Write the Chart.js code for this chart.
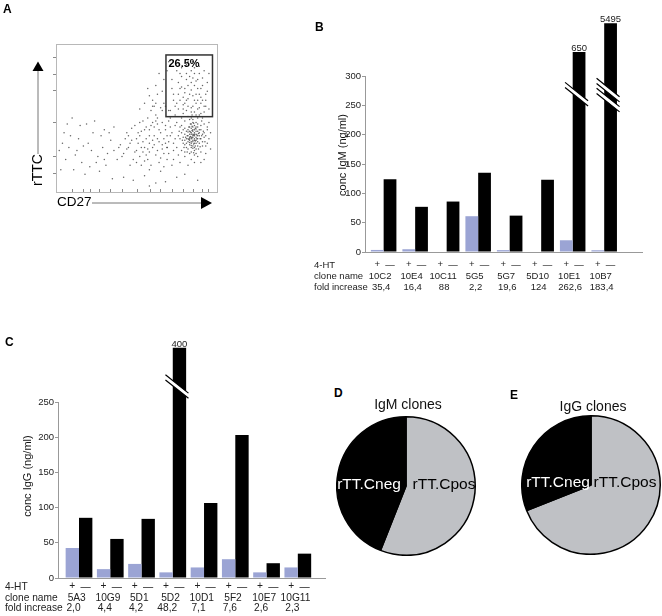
<!DOCTYPE html>
<html>
<head>
<meta charset="utf-8">
<script src="https://cdn.jsdelivr.net/npm/chart.js@4.4.1/dist/chart.umd.min.js"></script>
<style>
  body { margin: 0; background: #fff; }
  #page { position: relative; width: 662px; height: 616px; overflow: hidden; background: #fff; }
  canvas { position: absolute; }
  .tag { position: absolute; font: bold 12px Arial, "Liberation Sans", sans-serif; line-height: 12px; color: #000; }
  .ptitle { position: absolute; width: 160px; text-align: center; font: 14px Arial, "Liberation Sans", sans-serif; line-height: 14px; color: #111; }
</style>
</head>
<body>
<div id="page">
  <canvas id="facs" width="230" height="215" style="left:0;top:0"></canvas>
  <canvas id="igm" width="362" height="300" style="left:300px;top:0"></canvas>
  <canvas id="igg" width="330" height="316" style="left:0;top:300px"></canvas>
  <canvas id="pieM" width="140" height="140" style="left:336px;top:416px"></canvas>
  <canvas id="pieG" width="140" height="140" style="left:521px;top:415px"></canvas>

  <div class="tag" style="left:3px;top:3px">A</div>
  <div class="tag" style="left:315px;top:21px">B</div>
  <div class="tag" style="left:5px;top:336px">C</div>
  <div class="tag" style="left:334px;top:387px">D</div>
  <div class="tag" style="left:510px;top:389px">E</div>
  <div class="ptitle" style="left:328px;top:397px">IgM clones</div>
  <div class="ptitle" style="left:513px;top:399px">IgG clones</div>
</div>

<script>
const FONT = 'Arial, "Liberation Sans", sans-serif';
const BLUE = '#9ba4d4';
const GREY = '#bfc1c5';

// --- A : dot plot, both axes 0..100 (display units) ---
const facsDots = [
  // dense core
  [85,37],[84,36],[86,38],[83,35],[87,39],[85,34],[84,40],[88,36],[82,38],[86,33],
  [85,41],[83,39],[87,35],[84,33],[86,36],[89,38],[81,36],[85,39],[88,41],[83,32],
  [86,42],[84,37],[87,33],[82,34],[90,36],[85,31],[80,39],[88,34],[84,43],[86,30],
  [83,41],[89,40],[81,33],[87,44],[85,35],[79,37],[91,39],[84,30],[86,45],[82,42],
  [88,31],[80,35],[90,42],[83,36],[87,37],[85,44],[78,40],[89,33],[84,46],[86,28],
  [81,30],[92,37],[83,44],[87,29],[80,43],[91,34],[85,47],[79,33],[88,46],[82,29],
  [86,40],[84,34],[87,41],[83,37],[85,38],[86,35],[84,39],[88,38],[82,36],[85,42],
  [84.5,36.5],[85.5,38.5],[83.5,37.5],[86.5,34.5],[84.5,41.5],[87.5,38.5],[82.5,35.5],[85.5,32.5],[88.5,39.5],[83.5,40.5],
  [86.5,43],[81.5,38],[89.5,36],[84,31.5],[87,42.5],[82,40.5],[90.5,38],[85,29.5],[88,44],[80.5,37],
  [86,39],[83,33.5],[87.5,36],[84.5,44.5],[81,41],[89,42],[85.5,26.5],[78.5,35],[91.5,41],[83.5,46],
  [86.5,31],[80,32],[88.5,29],[82.5,44],[90,45],[84,27],[87,47],[79,42],[92,40],[85,49],
  [77,36],[93,38],[81.5,27],[89.5,30.5],[83,49],[86,25],[78,45],[91,31],[84.5,52],[88,50],
  [76.5,41],[94,44],[80,27],[87,26],[82,51],[90.5,48],[79.5,30],[92.5,34],[85.5,46.5],[83,26],
  // core fringe
  [75,30],[77,44],[93,31],[94,42],[76,25],[90,27],[92,46],[78,50],[74,36],[95,36],
  [72,40],[80,24],[88,24],[91,50],[73,28],[96,40],[79,53],[84,22],[77,20],[93,26],
  [70,34],[89,52],[75,47],[95,47],[82,18],[86,20],[71,44],[92,22],[78,28],[80,48],
  [74,52],[94,33],[76,38],[87,52],[73,22],[90,20],[96,29],[81,55],[69,30],[84,50],
  // inside the gate
  [80,60],[84,57],[88,62],[76,66],[90,70],[82,72],[86,54],[92,58],[74,58],[78,78],
  [85,65],[89,80],[81,86],[93,66],[72,70],[87,75],[79,56],[91,62],[75,82],[84,69],
  [88,56],[83,78],[94,74],[77,62],[86,84],[80,67],[90,53],[73,62],[85,88],[92,82],
  [78,71],[87,60],[82,63],[95,56],[71,55],[89,66],[76,74],[84,54],[91,77],[81,80],
  [82,58],[86,62],[79,64],[88,70],[84,74],[90,60],[77,70],[93,62],[81,76],[86,80],
  [75,60],[89,85],[83,66],[91,72],[78,84],[85,58],[94,68],[80,70],[87,66],[73,66],
  [92,54],[76,56],[84,82],[88,76],[82,88],[95,80],[79,59],[86,72],[90,64],[72,76],
  [81,62],[93,58],[77,80],[85,77],[89,57],
  // diagonal spread
  [65,40],[60,35],[55,30],[68,45],[62,25],[58,42],[50,28],[66,32],[63,50],[57,22],
  [52,38],[45,30],[69,38],[61,44],[48,22],[54,48],[67,26],[59,55],[47,35],[64,20],
  [42,26],[56,36],[70,48],[53,18],[60,30],[44,40],[66,55],[51,33],[58,15],[40,32],
  [63,36],[49,45],[67,60],[38,22],[55,42],[62,48],[46,18],[69,22],[57,29],[43,36],
  [65,14],[36,28],[60,58],[52,24],[68,33],
  [64,42],[61,38],[58,33],[66,47],[63,28],[59,45],[54,34],[67,36],[62,52],[56,25],
  [53,41],[50,36],[68,42],[60,47],[49,27],[57,50],[66,29],[61,58],[51,40],[65,23],
  [46,33],[58,38],[71,50],[55,21],[61,32],[47,43],[65,57],[53,30],[59,18],[44,29],
  [64,34],[52,47],[68,58],[41,24],[56,44],[63,46],[50,20],[70,26],[58,27],[45,38],
  [67,17],[39,30],[62,60],[54,27],[69,30],[72,18],[74,45],[71,38],[73,33],[70,55],
  // sparse left part
  [5,40],[12,25],[20,33],[3,15],[28,38],[15,45],[25,20],[8,30],[32,26],[18,12],
  [30,42],[10,50],[22,28],[34,35],[2,28],[27,14],[14,36],[31,18],[6,22],[24,48],
  [9,38],[16,20],[23,40],[4,33],[29,30],[19,46],[26,24],[11,15],[33,40],[21,17],
  [13,28],[36,44],[7,46],[30,22],[17,31],
  // strays
  [58,65],[62,72],[66,68],[55,60],[64,80],[70,88],[60,62],[67,76],
  [48,8],[62,6],[75,10],[35,9],[88,8],[55,11],
  [57,70],[63,66],[69,82],[52,56],[42,10],[68,7],[80,12],[58,4]
];
const facsGate = [68.3, 97.2, 50.9, 92.6]; // x from, x to, y from, y to
const facsGateLabel = '26.5%';
const facsTicksX = [9.8, 17, 21, 27, 33.5, 40.8, 50.1, 58.4, 64.6, 71.9, 79, 85.3, 90.5, 94.6];
const facsTicksY = [13, 24.5, 47, 69, 80, 91];

// --- B : IgM ---
const igmClones = ['10C2', '10E4', '10C11', '5G5', '5G7', '5D10', '10E1', '10B7'];
const igmPlus = [3.5, 4.7, 0, 61, 3.2, 0, 20, 3];
const igmMinus = [124, 77, 86, 135, 62, 123, 650, 5495];
const igmMinusDrawn = [124, 77, 86, 135, 62, 123, 341, 390]; // cut bars drawn short
const igmFold = ['35,4', '16,4', '88', '2,2', '19,6', '124', '262,6', '183,4'];
const igmBreaks = [[6, 269], [7, 276], [7, 259]];
const igmTicks = [0, 50, 100, 150, 200, 250, 300];

// --- C : IgG ---
const iggClones = ['5A3', '10G9', '5D1', '5D2', '10D1', '5F2', '10E7', '10G11'];
const iggPlus = [42.6, 12.6, 20, 8, 15, 26.7, 8, 15];
const iggMinus = [85.5, 55.5, 84, 400, 106.5, 203, 21, 34.6];
const iggMinusDrawn = [85.5, 55.5, 84, 327, 106.5, 203, 21, 34.6];
const iggFold = ['2,0', '4,4', '4,2', '48,2', '7,1', '7,6', '2,6', '2,3'];
const iggBreaks = [[3, 272]];
const iggTicks = [0, 50, 100, 150, 200, 250];

// --- D / E ---
const pieLabels = ['rTT.Cpos', 'rTT.Cneg'];
const igmPie = [56, 44];
const iggPie = [69, 31];

const rowHeads = ['4-HT', 'clone name', 'fold increase'];

// ---------- panel A ----------
const facsDecor = {
  id: 'facsDecor',
  afterDraw(chart) {
    const { ctx, chartArea: a, scales: { x, y } } = chart;
    ctx.save();
    ctx.strokeStyle = '#b8b8b8';
    ctx.lineWidth = 1;
    ctx.strokeRect(a.left + 0.5, a.top + 0.5, a.width, a.height);
    ctx.strokeStyle = '#8a8a8a';
    ctx.beginPath();
    facsTicksX.forEach(v => {
      const px = Math.round(x.getPixelForValue(v)) + 0.5;
      ctx.moveTo(px, a.bottom); ctx.lineTo(px, a.bottom - 3);
    });
    facsTicksY.forEach(v => {
      const py = Math.round(y.getPixelForValue(v)) + 0.5;
      ctx.moveTo(a.left, py); ctx.lineTo(a.left - 3, py);
    });
    ctx.stroke();

    // gate
    const gx1 = x.getPixelForValue(facsGate[0]), gx2 = x.getPixelForValue(facsGate[1]);
    const gy1 = y.getPixelForValue(facsGate[3]), gy2 = y.getPixelForValue(facsGate[2]);
    ctx.strokeStyle = '#333';
    ctx.lineWidth = 1.5;
    ctx.strokeRect(gx1, gy1, gx2 - gx1, gy2 - gy1);
    ctx.fillStyle = '#000';
    ctx.font = 'bold 11px ' + FONT;
    ctx.textBaseline = 'middle';
    ctx.fillText(facsGateLabel, gx1 + 2.5, gy1 + 9.5);

    // axis arrows
    const ax = a.left - 18;
    ctx.strokeStyle = '#777';
    ctx.lineWidth = 1;
    ctx.beginPath();
    ctx.moveTo(ax, a.top + 26); ctx.lineTo(ax, a.top + 110);
    ctx.moveTo(a.left + 36, a.bottom + 11); ctx.lineTo(a.right - 15, a.bottom + 11);
    ctx.stroke();
    ctx.fillStyle = '#000';
    ctx.beginPath();
    ctx.moveTo(ax, a.top + 17.5); ctx.lineTo(ax - 5.5, a.top + 27); ctx.lineTo(ax + 5.5, a.top + 27);
    ctx.closePath(); ctx.fill();
    ctx.beginPath();
    ctx.moveTo(a.right - 5, a.bottom + 11); ctx.lineTo(a.right - 16, a.bottom + 5); ctx.lineTo(a.right - 16, a.bottom + 17);
    ctx.closePath(); ctx.fill();

    ctx.font = '13.5px ' + FONT;
    ctx.textAlign = 'left';
    ctx.fillText('CD27', a.left + 1, a.bottom + 10.5);
    ctx.save();
    ctx.translate(ax, a.bottom - 22);
    ctx.rotate(-Math.PI / 2);
    ctx.textAlign = 'center';
    ctx.font = '14px ' + FONT;
    ctx.fillText('rTTC', 0, 0);
    ctx.restore();
    ctx.restore();
  }
};

new Chart(document.getElementById('facs'), {
  type: 'scatter',
  data: {
    datasets: [{
      data: facsDots.map(([x, y]) => ({ x, y })),
      pointRadius: 0.75,
      pointBorderWidth: 0,
      backgroundColor: 'rgba(35,35,35,0.7)'
    }]
  },
  options: {
    responsive: false,
    animation: false,
    layout: { padding: { left: 56, top: 44, right: 13, bottom: 23 } },
    plugins: { legend: { display: false }, tooltip: { enabled: false } },
    scales: {
      x: { display: false, min: 0, max: 100 },
      y: { display: false, min: 0, max: 100 }
    }
  },
  plugins: [facsDecor]
});

// ---------- panels B and C ----------
function barPanel(id, c) {
  const yTop = c.ticks[c.ticks.length - 1];
  const deco = {
    id: 'deco_' + id,
    afterDatasetsDraw(chart) {
      const { ctx, chartArea: a, scales: { x, y } } = chart;
      const mPlus = chart.getDatasetMeta(0), mMinus = chart.getDatasetMeta(1);
      ctx.save();
      // y axis line only up to the last tick
      ctx.strokeStyle = '#999';
      ctx.lineWidth = 1;
      ctx.beginPath();
      ctx.moveTo(a.left - 0.5, y.getPixelForValue(0));
      ctx.lineTo(a.left - 0.5, y.getPixelForValue(yTop));
      ctx.stroke();

      // axis breaks
      c.breaks.forEach(([i, v]) => {
        const cx = mMinus.data[i].x, cy = y.getPixelForValue(v);
        const xl = cx - 14, xr = cx + 9, xm = (xl + xr) / 2, s = 0.8, g = 2.6;
        const yl = cy + (xl - xm) * s, yr = cy + (xr - xm) * s;
        ctx.fillStyle = '#fff';
        ctx.beginPath();
        ctx.moveTo(xl, yl - g); ctx.lineTo(xr, yr - g); ctx.lineTo(xr, yr + g); ctx.lineTo(xl, yl + g);
        ctx.closePath(); ctx.fill();
        ctx.strokeStyle = '#000';
        ctx.lineWidth = 1.2;
        ctx.beginPath();
        ctx.moveTo(xl, yl - g); ctx.lineTo(xr, yr - g);
        ctx.moveTo(xl, yl + g); ctx.lineTo(xr, yr + g);
        ctx.stroke();
      });

      // real values above the cut bars
      ctx.fillStyle = '#222';
      ctx.font = c.tickFont + 'px ' + FONT;
      ctx.textAlign = 'center';
      ctx.textBaseline = 'bottom';
      new Set(c.breaks.map(b => b[0])).forEach(i => {
        const bar = mMinus.data[i];
        ctx.fillText(String(c.minus[i]), bar.x, bar.y + 1);
      });

      // table under the axis
      ctx.font = c.tableFont + 'px ' + FONT;
      ctx.textBaseline = 'middle';
      ctx.textAlign = 'left';
      rowHeads.forEach((h, r) => ctx.fillText(h, c.headX, c.rows[r]));
      ctx.textAlign = 'center';
      c.names.forEach((n, i) => {
        const cx = x.getPixelForValue(i);
        ctx.fillText('+', mPlus.data[i].x, c.rows[0] - 1);
        ctx.fillText('—', mMinus.data[i].x, c.rows[0]);
        ctx.fillText(n, cx + c.nameShift, c.rows[1]);
        ctx.fillText(c.fold[i], cx + c.foldShift, c.rows[2]);
      });

      // axis title
      ctx.save();
      ctx.translate(c.titleX, c.titleY);
      ctx.rotate(-Math.PI / 2);
      ctx.font = '11px ' + FONT;
      ctx.fillStyle = '#111';
      ctx.fillText(c.title, 0, 0);
      ctx.restore();
      ctx.restore();
    }
  };

  return new Chart(document.getElementById(id), {
    type: 'bar',
    data: {
      datasets: [
        { label: '+', data: c.plus.map((v, i) => ({ x: i, y: v })), backgroundColor: BLUE,
          categoryPercentage: c.cat, barPercentage: 1 },
        { label: '—', data: c.drawn.map((v, i) => ({ x: i, y: v })), backgroundColor: '#000',
          categoryPercentage: c.cat, barPercentage: 1 }
      ]
    },
    options: {
      responsive: false,
      animation: false,
      layout: { padding: c.padding },
      plugins: { legend: { display: false }, tooltip: { enabled: false } },
      scales: {
        x: {
          type: 'linear', offset: false, min: c.xMin, max: c.xMax,
          afterBuildTicks: s => { s.ticks = c.names.map((_, i) => ({ value: i })); },
          afterFit: s => { s.height = c.xH; },
          ticks: { display: false },
          grid: { display: false, offset: false },
          border: { color: '#999', width: 1 }
        },
        y: {
          min: 0, max: c.yMax,
          afterBuildTicks: s => { s.ticks = c.ticks.map(v => ({ value: v })); },
          afterFit: s => { s.width = c.yW; },
          ticks: { padding: 1, color: '#222', font: { family: FONT, size: c.tickFont } },
          grid: { drawOnChartArea: false, tickLength: 4, color: '#999' },
          border: { display: false }
        }
      }
    },
    plugins: [deco]
  });
}

barPanel('igm', {
  names: igmClones, plus: igmPlus, minus: igmMinus, drawn: igmMinusDrawn, fold: igmFold, breaks: igmBreaks, ticks: igmTicks,
  title: 'conc IgM (ng/ml)', titleX: 43, titleY: 155,
  padding: { top: 10, right: 20, bottom: 0, left: 0 }, yW: 66, xH: 48,
  xMin: -0.56, xMax: 8.2, yMax: 412.5, cat: 0.81,
  tickFont: 9.5, tableFont: 9.5, headX: 14, rows: [265, 276, 287.3], nameShift: -3.5, foldShift: -2.5
});

barPanel('igg', {
  names: iggClones, plus: iggPlus, minus: iggMinus, drawn: iggMinusDrawn, fold: iggFold, breaks: iggBreaks, ticks: iggTicks,
  title: 'conc IgG (ng/ml)', titleX: 28, titleY: 176,
  padding: { top: 30, right: 5, bottom: 0, left: 0 }, yW: 59, xH: 38,
  xMin: -0.64, xMax: 7.87, yMax: 352.3, cat: 0.855,
  tickFont: 9.5, tableFont: 10.2, headX: 5, rows: [287.3, 297.7, 308.3], nameShift: -2.3, foldShift: -5.5
});

// ---------- panels D and E ----------
function piePanel(id, values, dx, dy) {
  return new Chart(document.getElementById(id), {
    type: 'pie',
    data: {
      labels: pieLabels,
      datasets: [{ data: values, backgroundColor: [GREY, '#000'], borderColor: '#000', borderWidth: 1.5 }]
    },
    options: {
      responsive: false,
      animation: false,
      plugins: { legend: { display: false }, tooltip: { enabled: false } }
    },
    plugins: [{
      id: 'pieText_' + id,
      afterDraw(chart) {
        const arc = chart.getDatasetMeta(0).data[0];
        const ctx = chart.ctx;
        ctx.save();
        ctx.font = '15.5px ' + FONT;
        ctx.textAlign = 'center';
        ctx.textBaseline = 'middle';
        pieLabels.forEach((t, i) => {
          ctx.fillStyle = i === 0 ? '#000' : '#fff';
          ctx.fillText(t, arc.x + dx[i], arc.y + dy);
        });
        ctx.restore();
      }
    }]
  });
}

piePanel('pieM', igmPie, [38, -37], -1);
piePanel('pieG', iggPie, [34, -33], -2.5);
</script>
</body>
</html>
